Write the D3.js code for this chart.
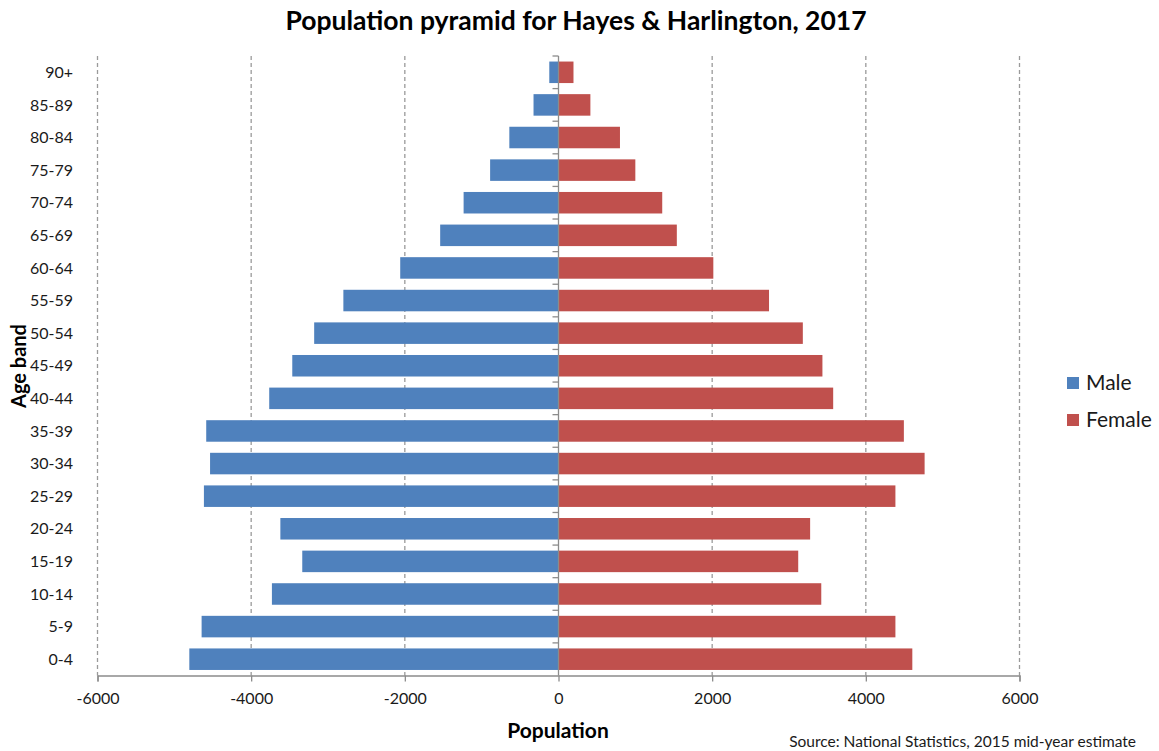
<!DOCTYPE html>
<html><head><meta charset="utf-8">
<script src="https://cdn.jsdelivr.net/npm/d3@7"></script>
<style>body{margin:0;background:#fff;} svg{display:block;font-family:Lato,"Open Sans",sans-serif;}</style>
</head><body>
<svg id="c" width="1159" height="751"></svg>
<script>
const ageBands = ["90+","85-89","80-84","75-79","70-74","65-69","60-64","55-59","50-54","45-49","40-44","35-39","30-34","25-29","20-24","15-19","10-14","5-9","0-4"];
const maleValues = [120,325,640,890,1235,1540,2060,2800,3180,3465,3765,4585,4535,4615,3620,3335,3730,4645,4805];
const femaleValues = [195,415,800,1000,1350,1540,2015,2740,3180,3435,3575,4495,4765,4385,3275,3120,3420,4385,4605];
const xTicks = [-6000,-4000,-2000,0,2000,4000,6000];
const seriesNames = ["Male","Female"];
const colors = ["#4F81BD","#C0504D"];

const svg = d3.select("#c");
const L = 97.5, R = 1019.5, T = 56, B = 675.5;
const x = d3.scaleLinear().domain([-6000,6000]).range([L,R]);
const y = d3.scaleBand().domain(ageBands).range([T,B]).paddingInner(0.34).paddingOuter(0.17);

// grid
svg.append("g").selectAll("line").data(xTicks.filter(d=>d!==0)).join("line")
  .attr("x1",d=>x(d)).attr("x2",d=>x(d)).attr("y1",T).attr("y2",B)
  .attr("stroke","#9a9a9a").attr("stroke-width",1.3).attr("stroke-dasharray","4,3");

// bars
const rows = ageBands.map((a,i)=>({a, m:maleValues[i], f:femaleValues[i]}));
svg.append("g").selectAll("rect").data(rows).join("rect")
  .attr("x",d=>x(-d.m)).attr("width",d=>x(0)-x(-d.m))
  .attr("y",d=>y(d.a)).attr("height",y.bandwidth()).attr("fill",colors[0]);
svg.append("g").selectAll("rect").data(rows).join("rect")
  .attr("x",x(0)).attr("width",d=>x(d.f)-x(0))
  .attr("y",d=>y(d.a)).attr("height",y.bandwidth()).attr("fill",colors[1]);

// x axis
const xa = svg.append("g").attr("transform",`translate(0,${B})`)
  .call(d3.axisBottom(x).tickValues(xTicks).tickSize(6).tickPadding(11).tickFormat(d=>String(d)));
xa.select(".domain").attr("stroke","#8c8c8c").attr("stroke-width",1.3);
xa.selectAll(".tick line").attr("stroke","#8c8c8c").attr("stroke-width",1.3);
xa.selectAll("text").attr("font-size",16).attr("fill","#1a1a1a").attr("font-family","Lato,sans-serif");

// y axis at zero with ticks at band boundaries
const yAxisG = svg.append("g");
yAxisG.append("line").attr("x1",x(0)).attr("x2",x(0)).attr("y1",T).attr("y2",B).attr("stroke","#8c8c8c").attr("stroke-width",1.3);
yAxisG.selectAll("line.t").data(d3.range(ageBands.length)).join("line").attr("class","t")
  .attr("x1",x(0)-6).attr("x2",x(0)).attr("y1",i=>T+i*(B-T)/ageBands.length).attr("y2",i=>T+i*(B-T)/ageBands.length)
  .attr("stroke","#8c8c8c").attr("stroke-width",1.3);

// category labels
svg.append("g").selectAll("text").data(ageBands).join("text")
  .attr("x",73).attr("y",d=>y(d)+y.bandwidth()/2).attr("dy","0.35em")
  .attr("text-anchor","end").attr("font-size",16).attr("fill","#1a1a1a").text(d=>d);

// titles
svg.append("text").attr("x",576).attr("y",30).attr("text-anchor","middle")
  .attr("font-size",26.5).attr("font-weight","bold").attr("fill","#000")
  .text("Population pyramid for Hayes & Harlington, 2017");
svg.append("text").attr("x",558).attr("y",738).attr("text-anchor","middle")
  .attr("font-size",21).attr("font-weight","bold").attr("fill","#000").text("Population");
svg.append("text").attr("transform","translate(26,366) rotate(-90)").attr("text-anchor","middle")
  .attr("font-size",20).attr("font-weight","bold").attr("fill","#000").text("Age band");
svg.append("text").attr("x",1136).attr("y",747).attr("text-anchor","end")
  .attr("font-size",15.5).attr("fill","#1a1a1a").text("Source: National Statistics, 2015 mid-year estimate");

// legend
const lg = svg.append("g").selectAll("g").data(seriesNames).join("g")
  .attr("transform",(d,i)=>`translate(1067,${383+i*37})`);
lg.append("rect").attr("x",0).attr("y",-6).attr("width",12).attr("height",12).attr("fill",(d,i)=>colors[i]);
lg.append("text").attr("x",19).attr("y",0).attr("dy","0.35em").attr("font-size",21).attr("fill","#1a1a1a").text(d=>d);
</script>
</body></html>
